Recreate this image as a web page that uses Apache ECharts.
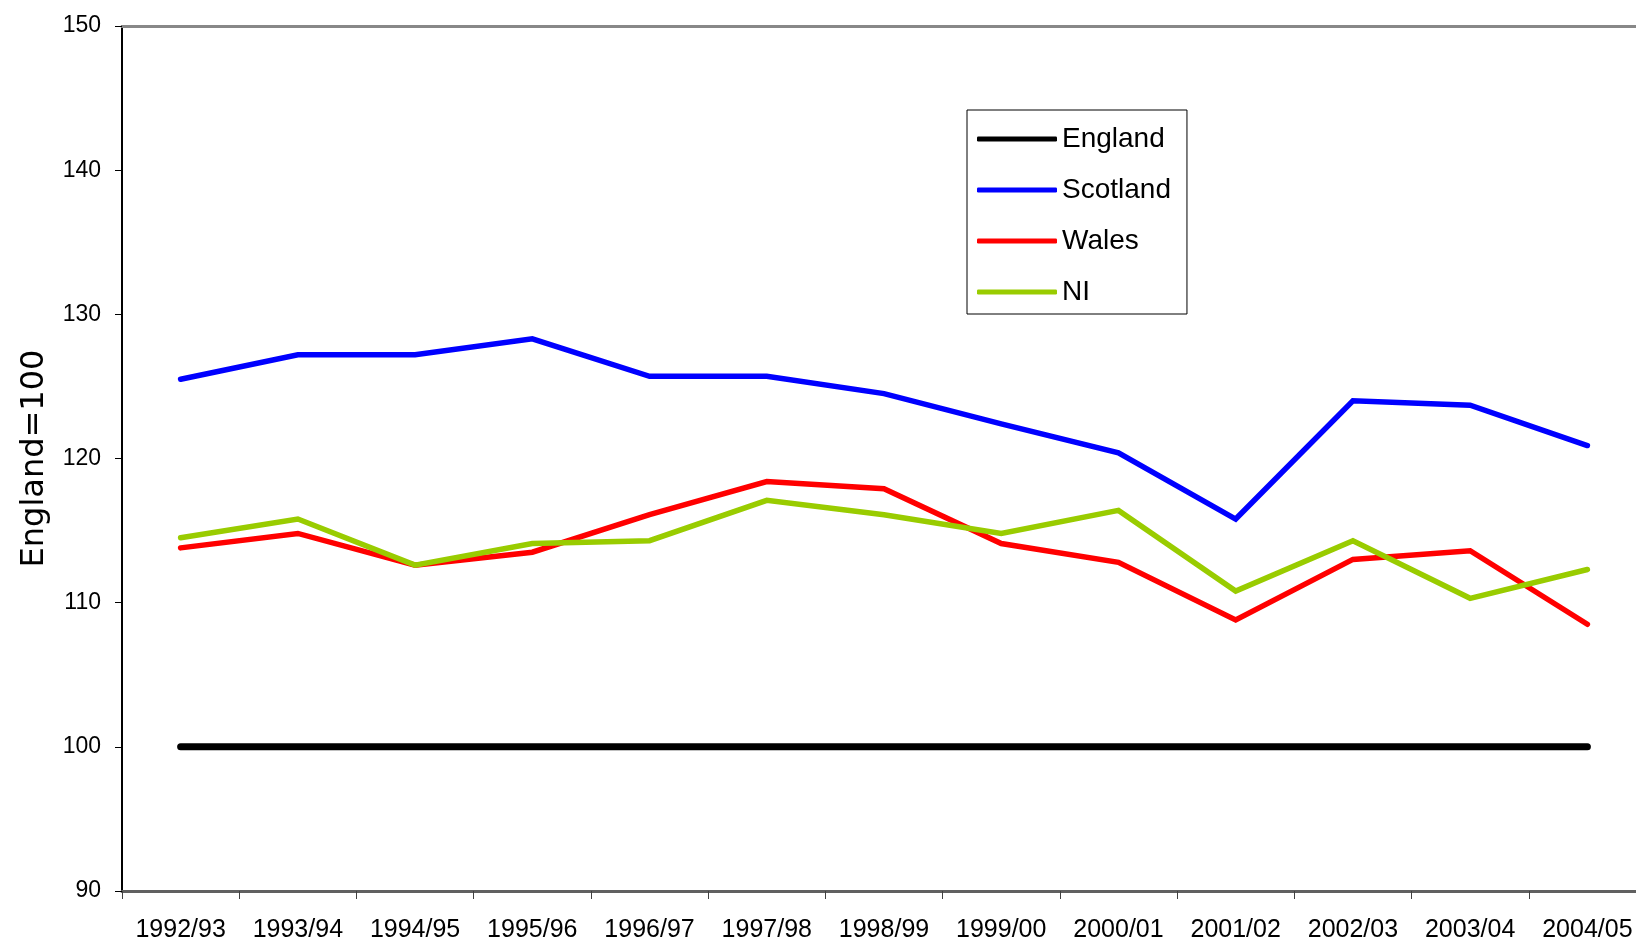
<!DOCTYPE html>
<html>
<head>
<meta charset="utf-8">
<script src="https://cdn.jsdelivr.net/npm/echarts@6/dist/echarts.min.js"></script>
<style>
html,body{margin:0;padding:0;background:#fff;}
#chart{width:1636px;height:944px;}
</style>
</head>
<body>
<div id="chart"></div>
<script>
const categories = ['1992/93','1993/94','1994/95','1995/96','1996/97','1997/98','1998/99','1999/00','2000/01','2001/02','2002/03','2003/04','2004/05'];
const england  = [100,100,100,100,100,100,100,100,100,100,100,100,100];
const scotland = [125.5,127.2,127.2,128.3,125.7,125.7,124.5,122.4,120.4,115.8,124.0,123.7,120.9];
const wales    = [113.8,114.8,112.6,113.5,116.1,118.4,117.9,114.1,112.8,108.8,113.0,113.6,108.5];
const ni       = [114.5,115.8,112.6,114.1,114.3,117.1,116.1,114.8,116.4,110.8,114.3,110.3,112.3];
const yTicks = {min: 90, max: 150, interval: 10};
const yTitle = 'England=100';

const labelFont = '"Liberation Sans Narrow", "Arial Narrow", "Liberation Sans", Arial, sans-serif';
const chart = echarts.init(document.getElementById('chart'));

function lineSeries(name, data, color, width) {
  return {
    name: name, type: 'line', data: data, symbol: 'none',
    lineStyle: {color: color, width: width, cap: 'round', join: 'miter'},
    itemStyle: {color: color},
    emphasis: {disabled: true},
    animation: false
  };
}

chart.setOption({
  backgroundColor: '#ffffff',
  animation: false,
  grid: {left: 122, top: 26, right: -10, bottom: 53, containLabel: false, outerBoundsMode: 'none'},
  legend: {
    left: 967, top: 110, orient: 'vertical',
    backgroundColor: '#ffffff', borderColor: '#000000', borderWidth: 1, borderRadius: 0,
    padding: [14, 16, 7, 10],
    itemWidth: 80, itemHeight: 5, itemGap: 21,
    icon: 'roundRect',
    textStyle: {fontFamily: 'Liberation Sans, Arial, sans-serif', fontSize: 28, color: '#000', lineHeight: 30, padding: [0,0,0,0]},
    data: ['England','Scotland','Wales','NI']
  },
  xAxis: [{
    type: 'category', data: categories, boundaryGap: true, position: 'bottom',
    axisLine: {show: true, lineStyle: {color: '#606060', width: 3}},
    axisTick: {show: true, length: 8, lineStyle: {color: '#404040', width: 1}, alignWithLabel: false},
    axisLabel: {fontFamily: labelFont, fontSize: 25, color: '#000', margin: 27, interval: 0},
    splitLine: {show: false}
  },{
    type: 'category', data: categories, position: 'top',
    axisLine: {show: true, lineStyle: {color: '#888888', width: 3}},
    axisTick: {show: false}, axisLabel: {show: false}, splitLine: {show: false}
  }],
  yAxis: {
    type: 'value', min: yTicks.min, max: yTicks.max, interval: yTicks.interval,
    name: yTitle, nameLocation: 'middle', nameGap: 71, nameRotate: 90,
    nameTextStyle: {fontFamily: '"DejaVu Sans", sans-serif', fontSize: 32, color: '#000'},
    axisLine: {show: true, lineStyle: {color: '#000', width: 2}},
    axisTick: {show: true, length: 7, lineStyle: {color: '#000', width: 1}},
    axisLabel: {fontFamily: labelFont, fontSize: 23, color: '#000', margin: 21},
    splitLine: {show: false}
  },
  series: [
    lineSeries('England', england, '#000000', 7),
    lineSeries('Scotland', scotland, '#0000ff', 5.5),
    lineSeries('Wales', wales, '#ff0000', 5.5),
    lineSeries('NI', ni, '#99cc00', 5.5)
  ]
});
</script>
</body>
</html>
